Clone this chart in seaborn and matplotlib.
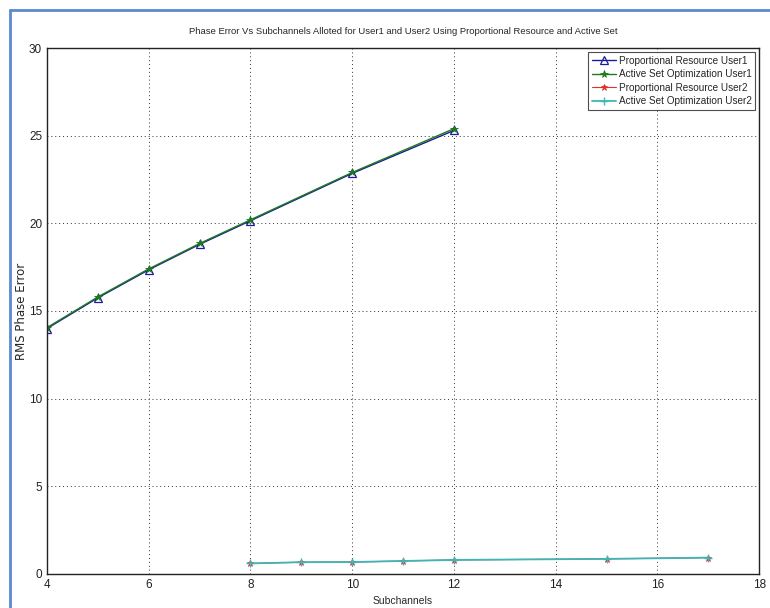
import pandas as pd
import matplotlib.pyplot as plt
import seaborn as sns
from matplotlib.lines import Line2D

# --- data ---
sub_user1 = [4, 5, 6, 7, 8, 10, 12]
prop_user1 = [14.0, 15.75, 17.35, 18.8, 20.15, 22.85, 25.3]
aso_user1 = [14.05, 15.8, 17.4, 18.85, 20.2, 22.9, 25.4]

sub_user2 = [8, 9, 10, 11, 12, 15, 17]
prop_user2 = [0.6, 0.67, 0.68, 0.74, 0.8, 0.86, 0.93]
aso_user2 = [0.6, 0.67, 0.68, 0.74, 0.8, 0.86, 0.93]

x_ticks = [4, 6, 8, 10, 12, 14, 16, 18]
y_ticks = [0, 5, 10, 15, 20, 25, 30]

sns.set_style("white")
plt.rcParams['font.family'] = ['Liberation Sans Narrow', 'Liberation Sans', 'DejaVu Sans']

fig = plt.figure(figsize=(7.7, 6.08), dpi=100)
ax = fig.add_axes([0.061, 0.056, 0.925, 0.865])

# --- series ---
sns.lineplot(x=sub_user1, y=prop_user1, ax=ax, color='#1a1a9a', lw=1.0,
             marker='^', markersize=6, markerfacecolor='none',
             markeredgecolor='#1a1a9a', markeredgewidth=0.9,
             label='Proportional Resource User1')
sns.lineplot(x=sub_user1, y=aso_user1, ax=ax, color='#1e7a1e', lw=1.0,
             marker='*', markersize=5.5, markeredgecolor='#1e7a1e',
             markeredgewidth=0.6, label='Active Set Optimization User1')
sns.lineplot(x=sub_user2, y=prop_user2, ax=ax, color='#e03030', lw=0.8,
             marker='*', markersize=5, markeredgecolor='#e03030',
             markeredgewidth=0.6, label='Proportional Resource User2')
sns.lineplot(x=sub_user2, y=aso_user2, ax=ax, color='#3fb5b5', lw=1.3,
             marker='+', markersize=6, markeredgecolor='#3fb5b5',
             markeredgewidth=1.0, label='Active Set Optimization User2')

# --- axes styling (MATLAB look) ---
ax.set_xlim(4, 18)
ax.set_ylim(0, 30)
ax.set_xticks(x_ticks)
ax.set_yticks(y_ticks)
ax.tick_params(direction='in', length=5, labelsize=8.5, colors='#222222')
ax.grid(True, color='#333333', linestyle=(0, (1, 3)), linewidth=0.7)
for side in ax.spines.values():
    side.set_color('#222222')
    side.set_linewidth(1.0)

ax.set_title('Phase Error Vs Subchannels Alloted for User1 and User2 Using '
             'Proportional Resource and Active Set', fontsize=6.8, pad=10)
ax.set_xlabel('Subchannels', fontsize=7.5, labelpad=4)
ax.set_ylabel('RMS Phase Error', fontsize=8.5, family=['DejaVu Sans'])
ax.yaxis.set_label_coords(-0.026, 0.5)

leg = ax.legend(loc='upper right', fontsize=7.2, frameon=True, fancybox=False,
                borderpad=0.35, labelspacing=0.35, handlelength=2.4,
                handletextpad=0.3, borderaxespad=0.4)
leg.get_frame().set_edgecolor('#222222')
leg.get_frame().set_linewidth(0.8)

# blue screenshot frame on left and top
fig.add_artist(Line2D([10 / 770, 10 / 770], [0, 1 - 10 / 608],
                      transform=fig.transFigure, color='#5a8ad0', lw=2))
fig.add_artist(Line2D([10 / 770, 1], [1 - 10 / 608, 1 - 10 / 608],
                      transform=fig.transFigure, color='#5a8ad0', lw=2))

fig.savefig('out.png', dpi=100)
